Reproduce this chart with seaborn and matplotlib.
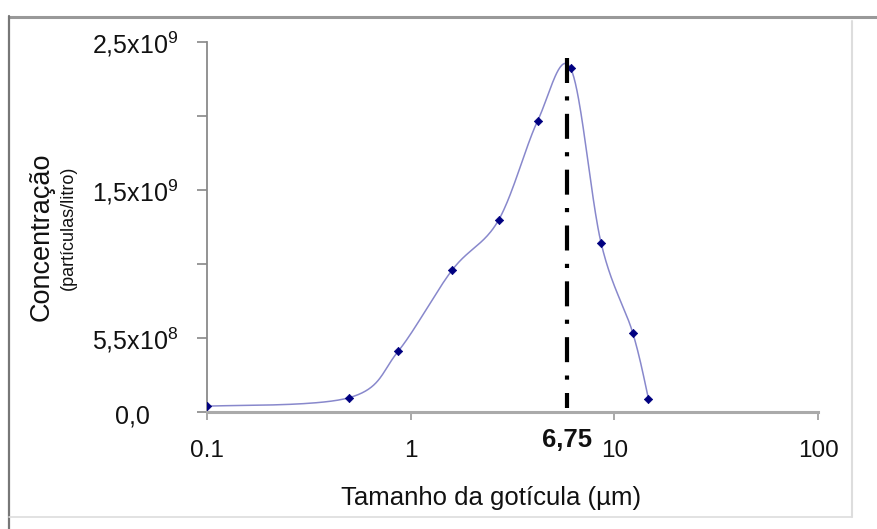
import numpy as np
import pandas as pd
import matplotlib
matplotlib.use("Agg")
import matplotlib.pyplot as plt
import matplotlib.transforms as mtransforms
from matplotlib.lines import Line2D
import seaborn as sns

# ---------------- data ----------------
droplet_size = [0.1, 0.5, 0.87, 1.6, 2.7, 4.2, 6.1, 8.6, 12.3, 14.7]          # µm
concentration = [0.039e9, 0.097e9, 0.412e9, 0.96e9, 1.296e9, 1.967e9,
                 2.322e9, 1.145e9, 0.537e9, 0.091e9]                           # partículas/litro
x_ticks = [0.1, 1, 10, 100]
x_tick_labels = ["0.1", "1", "10", "100"]
y_ticks = [0, 0.5e9, 1.0e9, 1.5e9, 2.0e9, 2.5e9]
y_tick_labels = ["0,0", "5,5x10$^{8}$", "", "1,5x10$^{9}$", "", "2,5x10$^{9}$"]
peak_x = 5.86          # position of the dash-dot marker line
peak_label = "6,75"
peak_line_range = [0.03e9, 2.39e9]

# ---------------- style ----------------
sns.set_theme(style="white")
plt.rcParams["font.family"] = ["Liberation Sans", "DejaVu Sans"]
plt.rcParams["mathtext.fontset"] = "custom"
plt.rcParams["mathtext.rm"] = "Liberation Sans"
plt.rcParams["mathtext.it"] = "Liberation Sans:italic"
plt.rcParams["mathtext.bf"] = "Liberation Sans:bold"

W, H = 878, 529
fig = plt.figure(figsize=(W / 100, H / 100), dpi=100)
fig.patch.set_facecolor("white")

L, R, B, T = 207, 818, 412, 42
ax = fig.add_axes([L / W, 1 - B / H, (R - L) / W, (B - T) / H])
ax.set_facecolor("white")
ax.set_xscale("log")
ax.set_xlim(0.1, 100)
ax.set_ylim(0, 2.5e9)

df = pd.DataFrame({"size": droplet_size, "conc": concentration})

# smoothed connecting line (Excel-like Catmull-Rom smoothing in screen space)
pts = ax.transData.transform(np.column_stack([df["size"], df["conc"]]))
n = len(pts)
curve = []
tt = np.linspace(0, 1, 40)
for i in range(n - 1):
    p0 = pts[i - 1] if i > 0 else pts[i]
    p1 = pts[i]
    p2 = pts[i + 1]
    p3 = pts[i + 2] if i + 2 < n else pts[i + 1]
    c1 = p1 + (p2 - p0) / 6.0
    c2 = p2 - (p3 - p1) / 6.0
    for t in tt:
        b = ((1 - t) ** 3) * p1 + 3 * ((1 - t) ** 2) * t * c1 + 3 * (1 - t) * t ** 2 * c2 + t ** 3 * p2
        curve.append(b)
curve = ax.transData.inverted().transform(np.array(curve))
ax.plot(curve[:, 0], curve[:, 1], color="#8888cc", lw=1.1, zorder=2)

sns.scatterplot(data=df, x="size", y="conc", marker="D", s=18, color="#000080",
                edgecolor="#000080", linewidth=0.5, ax=ax, zorder=3)

# dash-dot vertical line at peak
ax.plot([peak_x, peak_x], [peak_line_range[1], peak_line_range[0]], color="black",
        lw=3.0, linestyle=(0, (6.0, 3.2, 1.0, 3.2)), solid_capstyle="butt",
        dash_capstyle="butt", zorder=4)

# axes styling
for s in ["top", "right"]:
    ax.spines[s].set_visible(False)
ax.spines["bottom"].set_color("#aaaaaa")
ax.spines["bottom"].set_linewidth(2.2)
ax.spines["left"].set_color("#8a8a8a")
ax.spines["left"].set_linewidth(1.3)

ax.set_xticks(x_ticks)
ax.set_xticklabels(x_tick_labels)
ax.xaxis.set_minor_locator(matplotlib.ticker.NullLocator())
ax.set_yticks(y_ticks)
ax.set_yticklabels([""] + y_tick_labels[1:])
ax.tick_params(axis="x", which="major", direction="out", length=6, width=1.2,
               color="#999999", labelsize=17.5, pad=14, bottom=True, labelcolor="#111111")
ax.tick_params(axis="y", which="major", direction="out", length=7, width=1.2,
               color="#888888", labelsize=18, pad=14, left=True, labelcolor="#111111")
ax.set_ylabel("")

# "0,0" label (drawn centred, offset from the others as in the source)
ax.text(-0.1227, -0.03e9, y_tick_labels[0], fontsize=18, color="#111111",
        ha="center", va="center",
        transform=mtransforms.blended_transform_factory(ax.transAxes, ax.transData))

# peak label
ax.text(peak_x, (B - 440) / (B - T), peak_label, fontsize=18.5, fontweight="bold",
        color="#111111", ha="center", va="center",
        transform=mtransforms.blended_transform_factory(ax.transData, ax.transAxes))

ax.set_xlabel("Tamanho da gotícula (µm)", fontsize=18.5, color="#111111", va="center")
ax.xaxis.set_label_coords((491 - L) / (R - L), (B - 498) / (B - T))

# y axis title (two parts)
fig.text(42 / W, 1 - 237 / H, "Concentração", rotation=90, fontsize=19.5,
         color="#111111", ha="center", va="center")
fig.text(68 / W, 1 - 228 / H, "(partículas/litro)", rotation=90, fontsize=13,
         color="#111111", ha="center", va="center")

# outer frame of the source screenshot
def fline(x0, y0, x1, y1, color, lw):
    fig.add_artist(Line2D([x0 / W, x1 / W], [1 - y0 / H, 1 - y1 / H],
                          transform=fig.transFigure, color=color, lw=lw))

fline(9, 17, 878, 17, "#999999", 2.2)
fline(9, 16, 9, 529, "#777777", 1.6)
fline(852, 21, 852, 517, "#dddddd", 1.5)
fline(9, 517, 852, 517, "#dddddd", 1.2)

fig.savefig("out.png", dpi=100, facecolor="white")
